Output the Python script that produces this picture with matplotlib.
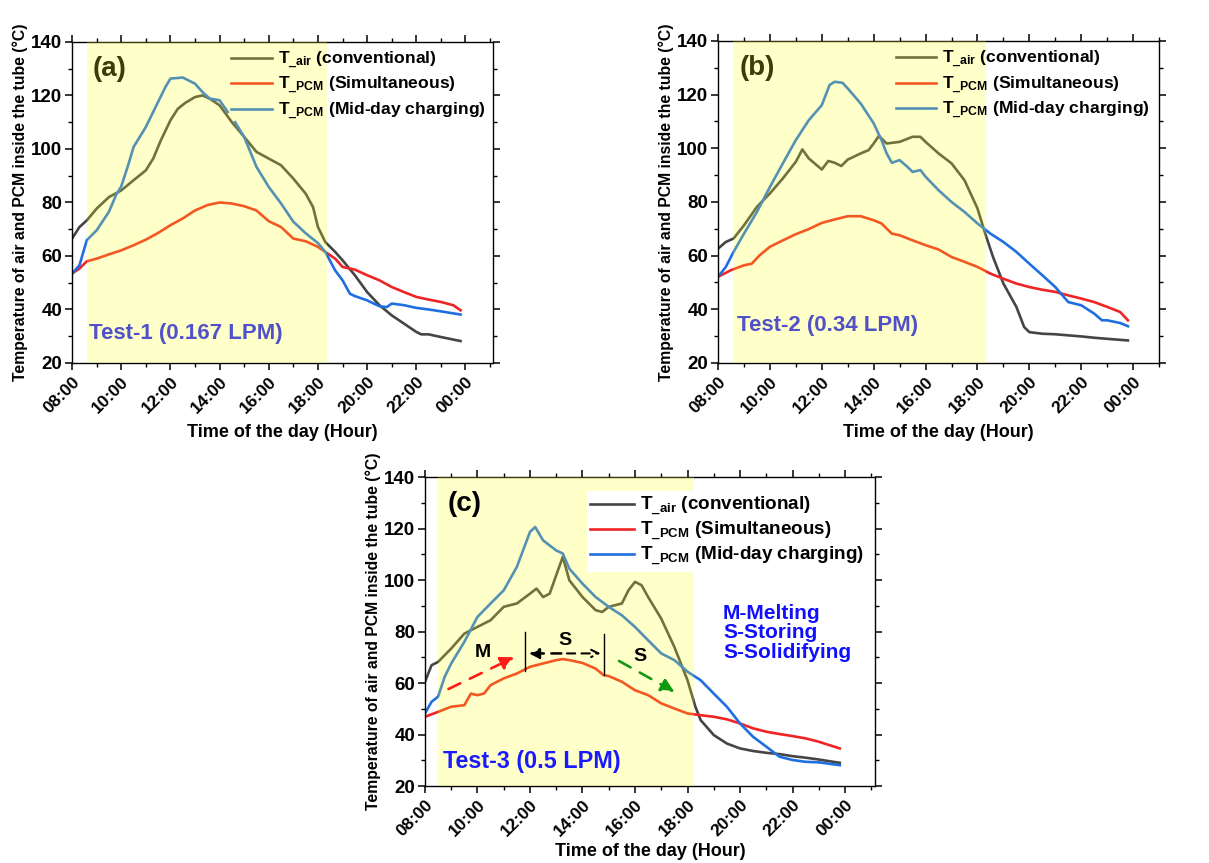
import numpy as np
import matplotlib
matplotlib.use("Agg")
import matplotlib.pyplot as plt
import matplotlib.colors as mcolors
from matplotlib.ticker import MultipleLocator

plt.rcParams['font.family'] = ['Liberation Sans', 'DejaVu Sans']
plt.rcParams['font.weight'] = 'bold'
plt.rcParams['axes.labelweight'] = 'bold'
plt.rcParams['mathtext.fontset'] = 'custom'
plt.rcParams['mathtext.rm'] = 'Liberation Sans:bold'
plt.rcParams['mathtext.it'] = 'Liberation Sans:bold'
plt.rcParams['mathtext.bf'] = 'Liberation Sans:bold'

# ---------------- data ----------------
tick_hours = [8, 10, 12, 14, 16, 18, 20, 22, 24]
tick_labels = ["08:00", "10:00", "12:00", "14:00", "16:00", "18:00", "20:00", "22:00", "00:00"]
legend_labels = [r"T$_{\_air}$ (conventional)", r"T$_{\_PCM}$ (Simultaneous)", r"T$_{\_PCM}$ (Mid-day charging)"]

# Panel (a) Test-1 0.167 LPM
a_air_h = [8, 8.3, 8.6, 9, 9.5, 10, 10.5, 11, 11.3, 11.6, 12, 12.3, 12.6, 13, 13.3, 13.6, 14, 14.5, 15, 15.5,
           16, 16.5, 17, 17.5, 17.8, 18, 18.3, 18.7, 19, 19.5, 20, 20.5, 21, 21.5, 22, 22.2, 22.5, 23, 23.8]
a_air_t = [66.5, 70.8, 73.3, 77.7, 82, 84.5, 88.3, 92, 96.4, 103, 110.7, 115, 117.2, 119.4, 120, 118.8, 116.3, 110,
           104.5, 98.9, 96.4, 93.9, 88.9, 83.3, 78.3, 70.8, 65.2, 61.5, 58.4, 52.8, 46.5, 41.6, 37.8, 34.7, 31.6, 30.7,
           30.7, 29.7, 28.2]
a_sim_h = [8, 8.3, 8.6, 9, 9.5, 10, 10.5, 11, 11.5, 12, 12.5, 13, 13.5, 14, 14.5, 15, 15.5, 16, 16.5, 17, 17.5,
           18, 18.3, 18.7, 19, 19.5, 20, 20.5, 21, 21.5, 22, 22.5, 23, 23.5, 23.8]
a_sim_t = [53.4, 55.3, 58, 59, 60.6, 62.1, 64, 66.1, 68.6, 71.5, 74, 77, 79, 80, 79.6, 78.6, 77, 73, 70.8, 66.5,
           65.5, 63.4, 61.5, 59, 55.9, 54.9, 52.8, 50.9, 48.4, 46.5, 44.7, 43.7, 42.8, 41.6, 39.7]
a_mid_h = [8, 8.3, 8.6, 9, 9.5, 9.8, 10, 10.3, 10.5, 11, 11.5, 11.8, 12, 12.5, 13, 13.3, 13.6, 14, 14.33, 14.5,
           14.63, 15, 15.5, 16, 16.5, 17, 17.5, 18, 18.3, 18.7, 19, 19.3, 19.5, 20, 20.5, 20.8, 21, 21.5, 22,
           22.5, 23, 23.8]
a_mid_t = [53.4, 56.5, 65.9, 69.6, 76.5, 83, 86, 94.5, 100.7, 108.2, 117.6, 123.2, 126.3, 126.7, 124.4, 121.3,
           118.8, 118.2, 113.8, np.nan, 110, 104.5, 93.3, 85.8, 79.6, 72.8, 68.5, 64.8, 61.5, 54.6, 50.9, 45.9,
           45, 43.4, 41.2, 40.9, 42.2, 41.6, 40.6, 40, 39.3, 38.1]

# Panel (b) Test-2 0.34 LPM
b_air_h = [8, 8.3, 8.6, 9, 9.5, 10, 10.5, 11, 11.25, 11.5, 12, 12.25, 12.5, 12.75, 13, 13.5, 13.8, 14, 14.2, 14.5,
           15, 15.5, 15.8, 16, 16.5, 17, 17.5, 18, 18.3, 18.6, 19, 19.5, 19.8, 20, 20.5, 21, 21.5, 22, 22.5, 23, 23.8]
b_air_t = [62.6, 65.1, 66.4, 71.3, 78.2, 83.2, 88.8, 95, 99.6, 96.2, 92.1, 95.3, 94.6, 93.4, 95.8, 98.1, 99.3,
           101.8, 104.6, 101.8, 102.4, 104.3, 104.3, 102.4, 98.1, 94.4, 88.1, 77.6, 68.2, 59.5, 49.6, 40.9, 33.4,
           31.5, 30.9, 30.7, 30.3, 29.9, 29.4, 29, 28.4]
b_sim_h = [8, 8.5, 9, 9.3, 9.6, 10, 10.5, 11, 11.5, 12, 12.5, 13, 13.5, 14, 14.3, 14.7, 15, 15.5, 16, 16.5, 17,
           17.5, 18, 18.5, 19, 19.5, 20, 20.5, 21, 21.5, 22, 22.5, 23, 23.5, 23.8]
b_sim_t = [52.1, 54.6, 56.4, 57, 60.1, 63.3, 65.7, 68, 69.9, 72.2, 73.5, 74.7, 74.7, 73.2, 72, 68.2, 67.6, 65.7,
           63.9, 62.3, 59.5, 57.7, 55.8, 53.3, 51.4, 49.6, 48.3, 47.3, 46.5, 45.2, 44, 42.7, 40.9, 39, 35.9]
b_mid_h = [8, 8.3, 8.6, 9, 9.5, 10, 10.5, 11, 11.5, 12, 12.3, 12.5, 12.8, 13, 13.5, 14, 14.3, 14.5, 14.7, 15,
           15.3, 15.5, 15.8, 16, 16.5, 17, 17.5, 18, 18.5, 19, 19.5, 20, 20.5, 21, 21.5, 22, 22.5, 22.8, 23,
           23.5, 23.8]
b_mid_t = [52.1, 55.8, 61.4, 68.2, 76.3, 85.6, 94.4, 103.1, 110.5, 116.1, 123.6, 124.8, 124.4, 122.3, 116.7,
           109.3, 103.1, 98.1, 94.6, 95.6, 93.1, 91.2, 91.9, 89.4, 84.4, 80, 76.3, 72, 68.2, 65.1, 61.4, 57,
           52.7, 48.3, 42.7, 41.5, 38.4, 35.9, 35.9, 34.9, 33.7]

# Panel (c) Test-3 0.5 LPM
c_air_h = [8, 8.25, 8.5, 9, 9.5, 10, 10.5, 11, 11.5, 12, 12.25, 12.5, 12.75, 13, 13.25, 13.5, 14, 14.5, 14.75,
           15, 15.5, 15.75, 16, 16.25, 16.5, 17, 17.5, 18, 18.3, 18.5, 19, 19.5, 20, 20.5, 21, 21.5, 22, 22.5,
           23, 23.8]
c_air_t = [60.5, 66.9, 68.2, 73.4, 79.2, 81.8, 84.4, 89.6, 90.9, 94.7, 96.7, 93.4, 94.7, 101.9, 109, 99.9, 93.4,
           88.3, 87.6, 89.6, 90.9, 96, 99.3, 98, 93.4, 85, 74, 61.1, 50.8, 45.6, 39.8, 36.5, 34.6, 33.6, 32.9,
           32.4, 31.6, 31, 30.3, 29]
c_sim_h = [8, 8.5, 9, 9.5, 9.75, 10, 10.25, 10.5, 11, 11.5, 12, 12.5, 13, 13.25, 13.5, 14, 14.5, 14.8, 15, 15.5,
           16, 16.5, 17, 17.5, 18, 18.5, 19, 19.5, 20, 20.5, 21, 21.5, 22, 22.5, 23, 23.8]
c_sim_t = [46.9, 48.8, 50.8, 51.4, 55.9, 55.3, 55.9, 59.2, 61.8, 63.7, 66.3, 67.6, 68.9, 69.3, 68.9, 67.8, 65.6,
           63.1, 62.7, 60.5, 57.2, 55.3, 52.1, 50.1, 48.2, 47.5, 46.9, 45.9, 44.3, 42.4, 41.1, 40.2, 39.4, 38.5,
           37.2, 34.6]
c_mid_h = [8, 8.25, 8.5, 8.75, 9, 9.5, 10, 10.5, 11, 11.5, 12, 12.2, 12.5, 13, 13.25, 13.5, 14, 14.5, 15, 15.5,
           16, 16.5, 17, 17.5, 18, 18.5, 19, 19.5, 20, 20.5, 21, 21.5, 22, 22.5, 23, 23.8]
c_mid_t = [48.2, 52.7, 54.7, 62.4, 67.6, 76, 85.7, 90.9, 96, 105.1, 118.7, 120.6, 115.4, 111.5, 110.3, 104.4,
           98.6, 93.4, 89.6, 86.3, 81.8, 76.6, 71.5, 68.9, 64.4, 61.1, 55.9, 50.8, 44.3, 39.1, 35.3, 31.4, 30.1,
           29.4, 29.2, 28.1]

# ---------------- style ----------------
col_air = '#454545'
col_sim = '#f02424'
col_mid = '#1f6fe0'
shade_col = '#ffff20'
shade_alpha = 0.24


def blend(c):
    r = np.array(mcolors.to_rgb(c))
    y = np.array(mcolors.to_rgb(shade_col))
    return tuple(r * (1 - shade_alpha) + y * shade_alpha)


fig = plt.figure(figsize=(12.09, 8.63), dpi=100)

panels = [
    dict(pos=[0.0596, 0.5794, 0.348, 0.372], xmax=25.11, span=(8.6, 18.35), tag='(a)', test='Test-1 (0.167 LPM)',
         data=[(a_air_h, a_air_t), (a_sim_h, a_sim_t), (a_mid_h, a_mid_t)], test_xy=(8.7, 31.2), leg_box=False,
         test_fs=16, leg_fs=12.6, leg_anchor=(1.008, 1.01), xlpad=6),
    dict(pos=[0.5939, 0.5794, 0.3648, 0.3731], xmax=25.0, span=(8.58, 18.34), tag='(b)', test='Test-2 (0.34 LPM)',
         data=[(b_air_h, b_air_t), (b_sim_h, b_sim_t), (b_mid_h, b_mid_t)], test_xy=(8.72, 34), leg_box=False,
         test_fs=16, leg_fs=12.6, leg_anchor=(1.003, 1.01), xlpad=6),
    dict(pos=[0.3515, 0.0892, 0.3722, 0.358], xmax=25.14, span=(8.5, 18.25), tag='(c)', test='Test-3 (0.5 LPM)',
         data=[(c_air_h, c_air_t), (c_sim_h, c_sim_t), (c_mid_h, c_mid_t)], test_xy=(8.7, 29.4), leg_box=True,
         test_fs=16.8, leg_fs=13.6, leg_anchor=(0.985, 0.955), xlpad=3),
]

axes = []
for p in panels:
    ax = fig.add_axes(p['pos'])
    axes.append(ax)
    for (h, t), c in zip(p['data'], [col_air, col_sim, col_mid]):
        ax.plot(h, t, color=c, lw=1.9, zorder=2)
    # yellow translucent overlay on top of the curves
    ax.axvspan(p['span'][0], p['span'][1], color=shade_col, alpha=shade_alpha, lw=0, zorder=3)
    ax.set_xlim(8, p['xmax'])
    ax.set_ylim(20, 140)
    ax.set_xticks(tick_hours)
    ax.set_xticklabels(tick_labels, rotation=45, ha='right', rotation_mode='anchor', fontsize=12.5,
                       fontweight='bold')
    ax.xaxis.set_minor_locator(MultipleLocator(1))
    ax.yaxis.set_major_locator(MultipleLocator(20))
    ax.yaxis.set_minor_locator(MultipleLocator(10))
    ax.tick_params(axis='y', labelsize=13.5, pad=2)
    ax.tick_params(axis='x', pad=3)
    ax.tick_params(which='major', length=5, width=1.1)
    ax.tick_params(which='minor', length=3, width=1.0)
    ax.tick_params(which='both', top=True, right=True, direction='out')
    for lab in ax.get_yticklabels():
        lab.set_fontweight('bold')
    for s in ax.spines.values():
        s.set_linewidth(1.0)
    ax.set_xlabel('Time of the day (Hour)', fontsize=13, fontweight='bold', labelpad=p['xlpad'])
    ax.set_ylabel('Temperature of air and PCM inside the tube (\u00b0C)', fontsize=11.3, fontweight='bold',
                  labelpad=2)
    ax.text(0.05, 0.955, p['tag'], transform=ax.transAxes, fontsize=20, fontweight='bold', va='top',
            zorder=2 if not p['leg_box'] else 5)
    ax.text(p['test_xy'][0], p['test_xy'][1], p['test'], fontsize=p['test_fs'], fontweight='bold',
            color='#1a1aff', va='center', zorder=2 if not p['leg_box'] else 5)
    handles = ax.get_lines()[:3]
    if p['leg_box']:
        leg = ax.legend(handles, legend_labels, loc='upper right', bbox_to_anchor=p['leg_anchor'],
                        frameon=True, fancybox=False, framealpha=1.0, edgecolor='none', facecolor='white',
                        fontsize=p['leg_fs'], handlelength=2.3, handletextpad=0.35, labelspacing=0.12,
                        borderpad=0.2, borderaxespad=0.0)
        leg.set_zorder(6)
    else:
        leg = ax.legend(handles, legend_labels, loc='upper right', bbox_to_anchor=p['leg_anchor'],
                        frameon=False, fontsize=p['leg_fs'], handlelength=2.3, handletextpad=0.35,
                        labelspacing=0.22, borderaxespad=0.2)
        leg.set_zorder(6)
        for ln in leg.get_lines():
            ln.set_color(blend(ln.get_color()))

# annotations for panel (c)
axc = axes[2]
axc.plot([11.81, 11.81], [64.7, 79.9], color='black', lw=1.0, zorder=5)
axc.plot([14.83, 14.83], [63.1, 79.2], color='black', lw=1.0, zorder=5)
axc.annotate('', xy=(11.85, 71.5), xytext=(13.3, 71.5),
             arrowprops=dict(arrowstyle='-|>', color='black', lw=1.8, ls=(0, (4, 3)), mutation_scale=15),
             zorder=5)
axc.annotate('', xy=(14.8, 71.5), xytext=(13.3, 71.5),
             arrowprops=dict(arrowstyle='->', color='black', lw=1.5, ls=(0, (4, 3)), mutation_scale=13),
             zorder=5)
axc.annotate('', xy=(11.5, 70.5), xytext=(8.8, 57.2),
             arrowprops=dict(arrowstyle='-|>', color='#ff1a1a', lw=1.9, ls=(0, (5, 4)), mutation_scale=20),
             zorder=5)
axc.annotate('', xy=(17.6, 56.0), xytext=(15.3, 69.1),
             arrowprops=dict(arrowstyle='-|>', color='#119911', lw=1.9, ls=(0, (5, 4)), mutation_scale=20),
             zorder=5)
axc.text(10.2, 72, 'M', fontsize=14, fontweight='bold', ha='center', va='center', zorder=5)
axc.text(13.33, 76.6, 'S', fontsize=14, fontweight='bold', ha='center', va='center', zorder=5)
axc.text(16.2, 70.2, 'S', fontsize=14, fontweight='bold', ha='center', va='center', zorder=5)
axc.text(19.35, 79.5, 'M-Melting\nS-Storing\nS-Solidifying', fontsize=15, fontweight='bold',
         color='#1010ff', ha='left', va='center', linespacing=1.05, zorder=5)

fig.savefig('out.png', dpi=100)
